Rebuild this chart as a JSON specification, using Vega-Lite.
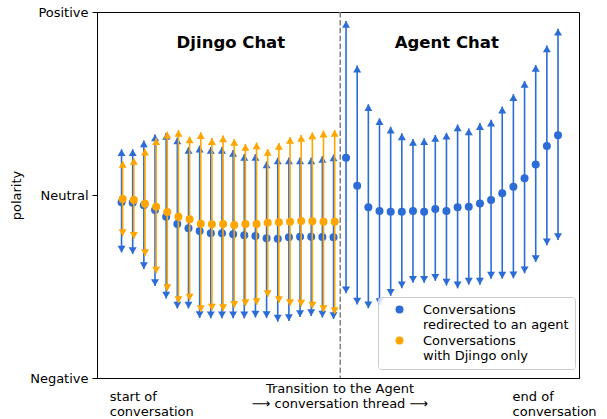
{
  "$schema": "https://vega.github.io/schema/vega-lite/v6.json",
  "width": 482,
  "height": 366,
  "autosize": {"type": "none"},
  "padding": {"left": 97, "top": 12, "right": 28, "bottom": 41},
  "background": "white",
  "config": {
    "font": "DejaVu Sans",
    "view": {"stroke": "black", "strokeWidth": 1}
  },
  "datasets": {
    "pts": [
      {"group": "agent", "x": 0, "mean": -0.040, "hi": 0.250, "lo": -0.314},
      {"group": "agent", "x": 1, "mean": -0.042, "hi": 0.250, "lo": -0.322},
      {"group": "agent", "x": 2, "mean": -0.056, "hi": 0.298, "lo": -0.404},
      {"group": "agent", "x": 3, "mean": -0.082, "hi": 0.331, "lo": -0.497},
      {"group": "agent", "x": 4, "mean": -0.119, "hi": 0.339, "lo": -0.566},
      {"group": "agent", "x": 5, "mean": -0.158, "hi": 0.314, "lo": -0.620},
      {"group": "agent", "x": 6, "mean": -0.182, "hi": 0.262, "lo": -0.620},
      {"group": "agent", "x": 7, "mean": -0.197, "hi": 0.270, "lo": -0.672},
      {"group": "agent", "x": 8, "mean": -0.209, "hi": 0.262, "lo": -0.674},
      {"group": "agent", "x": 9, "mean": -0.209, "hi": 0.262, "lo": -0.674},
      {"group": "agent", "x": 10, "mean": -0.215, "hi": 0.246, "lo": -0.674},
      {"group": "agent", "x": 11, "mean": -0.220, "hi": 0.224, "lo": -0.674},
      {"group": "agent", "x": 12, "mean": -0.224, "hi": 0.224, "lo": -0.670},
      {"group": "agent", "x": 13, "mean": -0.237, "hi": 0.183, "lo": -0.672},
      {"group": "agent", "x": 14, "mean": -0.239, "hi": 0.205, "lo": -0.692},
      {"group": "agent", "x": 15, "mean": -0.231, "hi": 0.205, "lo": -0.689},
      {"group": "agent", "x": 16, "mean": -0.228, "hi": 0.205, "lo": -0.667},
      {"group": "agent", "x": 17, "mean": -0.228, "hi": 0.205, "lo": -0.661},
      {"group": "agent", "x": 18, "mean": -0.230, "hi": 0.213, "lo": -0.670},
      {"group": "agent", "x": 19, "mean": -0.231, "hi": 0.221, "lo": -0.678},
      {"group": "agent", "x": 20.12, "mean": 0.204, "hi": 0.951, "lo": -0.537},
      {"group": "agent", "x": 21.12, "mean": 0.051, "hi": 0.707, "lo": -0.599},
      {"group": "agent", "x": 22.12, "mean": -0.067, "hi": 0.496, "lo": -0.619},
      {"group": "agent", "x": 23.12, "mean": -0.087, "hi": 0.419, "lo": -0.601},
      {"group": "agent", "x": 24.12, "mean": -0.091, "hi": 0.373, "lo": -0.551},
      {"group": "agent", "x": 25.12, "mean": -0.091, "hi": 0.337, "lo": -0.510},
      {"group": "agent", "x": 26.12, "mean": -0.087, "hi": 0.306, "lo": -0.480},
      {"group": "agent", "x": 27.12, "mean": -0.091, "hi": 0.310, "lo": -0.480},
      {"group": "agent", "x": 28.12, "mean": -0.077, "hi": 0.328, "lo": -0.469},
      {"group": "agent", "x": 29.12, "mean": -0.087, "hi": 0.340, "lo": -0.495},
      {"group": "agent", "x": 30.12, "mean": -0.067, "hi": 0.385, "lo": -0.510},
      {"group": "agent", "x": 31.12, "mean": -0.064, "hi": 0.364, "lo": -0.490},
      {"group": "agent", "x": 32.12, "mean": -0.046, "hi": 0.393, "lo": -0.490},
      {"group": "agent", "x": 33.12, "mean": -0.027, "hi": 0.411, "lo": -0.457},
      {"group": "agent", "x": 34.12, "mean": 0.009, "hi": 0.483, "lo": -0.457},
      {"group": "agent", "x": 35.12, "mean": 0.045, "hi": 0.551, "lo": -0.455},
      {"group": "agent", "x": 36.12, "mean": 0.091, "hi": 0.623, "lo": -0.428},
      {"group": "agent", "x": 37.12, "mean": 0.166, "hi": 0.710, "lo": -0.366},
      {"group": "agent", "x": 38.12, "mean": 0.268, "hi": 0.817, "lo": -0.275},
      {"group": "agent", "x": 39.12, "mean": 0.327, "hi": 0.909, "lo": -0.246},
      {"group": "djingo", "x": 0.1, "mean": -0.022, "hi": 0.186, "lo": -0.224},
      {"group": "djingo", "x": 1.1, "mean": -0.027, "hi": 0.202, "lo": -0.240},
      {"group": "djingo", "x": 2.1, "mean": -0.048, "hi": 0.253, "lo": -0.333},
      {"group": "djingo", "x": 3.1, "mean": -0.064, "hi": 0.310, "lo": -0.429},
      {"group": "djingo", "x": 4.1, "mean": -0.093, "hi": 0.346, "lo": -0.525},
      {"group": "djingo", "x": 5.1, "mean": -0.119, "hi": 0.355, "lo": -0.590},
      {"group": "djingo", "x": 6.1, "mean": -0.133, "hi": 0.320, "lo": -0.577},
      {"group": "djingo", "x": 7.1, "mean": -0.157, "hi": 0.343, "lo": -0.639},
      {"group": "djingo", "x": 8.1, "mean": -0.160, "hi": 0.311, "lo": -0.631},
      {"group": "djingo", "x": 9.1, "mean": -0.158, "hi": 0.325, "lo": -0.634},
      {"group": "djingo", "x": 10.1, "mean": -0.164, "hi": 0.306, "lo": -0.617},
      {"group": "djingo", "x": 11.1, "mean": -0.158, "hi": 0.279, "lo": -0.607},
      {"group": "djingo", "x": 12.1, "mean": -0.158, "hi": 0.287, "lo": -0.601},
      {"group": "djingo", "x": 13.1, "mean": -0.151, "hi": 0.251, "lo": -0.557},
      {"group": "djingo", "x": 14.1, "mean": -0.149, "hi": 0.284, "lo": -0.590},
      {"group": "djingo", "x": 15.1, "mean": -0.146, "hi": 0.317, "lo": -0.607},
      {"group": "djingo", "x": 16.1, "mean": -0.142, "hi": 0.328, "lo": -0.609},
      {"group": "djingo", "x": 17.1, "mean": -0.144, "hi": 0.342, "lo": -0.620},
      {"group": "djingo", "x": 18.1, "mean": -0.146, "hi": 0.352, "lo": -0.639},
      {"group": "djingo", "x": 19.1, "mean": -0.146, "hi": 0.355, "lo": -0.650}
    ],
    "titles": [
      {"label": "Djingo Chat", "x": 9.8, "y": 0.831},
      {"label": "Agent Chat", "x": 29.15, "y": 0.831}
    ]
  },
  "layer": [
    {
      "data": {"name": "pts"},
      "transform": [{"filter": "datum.group == 'agent'"}],
      "layer": [
        {
          "mark": {"type": "rule", "strokeWidth": 1.6},
          "encoding": {
            "x": {
              "field": "x", "type": "quantitative",
              "scale": {"domain": [-2.2, 41], "nice": false, "zero": false},
              "axis": {
                "values": [-1.1, 35.0],
                "labelExpr": "datum.value < 10 ? ['start of', 'conversation'] : ['end of', 'conversation']",
                "labelAlign": "left", "labelBaseline": "top", "labelPadding": 12, "labelLineHeight": 15.5,
                "labelFlush": false, "labelOverlap": false, "labelBound": false,
                "ticks": false, "tickSize": 0, "grid": false, "domainColor": "black",
                "labelFontSize": 13, "labelColor": "black", "labelFont": "DejaVu Sans",
                "title": ["Transition to the Agent", "⟶ conversation thread ⟶"],
                "titleFont": "DejaVu Sans", "titleFontSize": 13, "titleFontWeight": "normal", "titleColor": "black",
                "titleX": 242.5, "titleY": 14.7, "titleBaseline": "alphabetic", "titleAlign": "center", "titleLineHeight": 15
              }
            },
            "y": {
              "field": "lo", "type": "quantitative",
              "scale": {"domain": [-1, 1], "nice": false, "zero": false},
              "axis": {
                "values": [-1, 0, 1],
                "labelExpr": "datum.value > 0.5 ? 'Positive' : (datum.value < -0.5 ? 'Negative' : 'Neutral')",
                "title": "polarity", "grid": false, "tickSize": 5, "labelPadding": 4, "titlePadding": 6,
                "labelFontSize": 13, "titleFontSize": 13, "titleFontWeight": "normal",
                "labelColor": "black", "titleColor": "black", "tickColor": "black", "domainColor": "black",
                "labelFont": "DejaVu Sans", "titleFont": "DejaVu Sans"
              }
            },
            "y2": {"field": "hi"},
            "color": {
              "field": "group", "type": "nominal",
              "scale": {"domain": ["agent", "djingo"], "range": ["#2b6cd6", "#ffa500"]},
              "legend": {
                "title": null, "orient": "none", "legendX": 281, "legendY": 285, "direction": "vertical",
                "symbolType": "circle", "symbolSize": 64, "symbolOffset": 9, "symbolStrokeWidth": 0, "symbolOpacity": 1,
                "labelOffset": 17, "labelFontSize": 13, "labelFont": "DejaVu Sans", "labelColor": "black", "labelLimit": 300,
                "labelExpr": "datum.value == 'agent' ? ['Conversations', 'redirected to an agent'] : ['Conversations', 'with Djingo only']",
                "padding": 6, "fillColor": "rgba(255,255,255,0.8)", "strokeColor": "#cccccc", "cornerRadius": 3, "rowPadding": 2
              }
            }
          }
        },
        {
          "mark": {"type": "point", "filled": true, "opacity": 1, "size": 64, "shape": "M0,0L1,1.7L-1,1.7Z"},
          "encoding": {
            "x": {"field": "x", "type": "quantitative", "scale": {"domain": [-2.2, 41], "nice": false, "zero": false}},
            "y": {"field": "hi", "type": "quantitative", "scale": {"domain": [-1, 1], "nice": false, "zero": false}},
            "color": {"field": "group", "type": "nominal", "scale": {"domain": ["agent", "djingo"], "range": ["#2b6cd6", "#ffa500"]}}
          }
        },
        {
          "mark": {"type": "point", "filled": true, "opacity": 1, "size": 64, "shape": "M0,0L1,-1.7L-1,-1.7Z"},
          "encoding": {
            "x": {"field": "x", "type": "quantitative", "scale": {"domain": [-2.2, 41], "nice": false, "zero": false}},
            "y": {"field": "lo", "type": "quantitative", "scale": {"domain": [-1, 1], "nice": false, "zero": false}},
            "color": {"field": "group", "type": "nominal", "scale": {"domain": ["agent", "djingo"], "range": ["#2b6cd6", "#ffa500"]}}
          }
        },
        {
          "mark": {"type": "point", "filled": true, "opacity": 1, "size": 64, "shape": "circle"},
          "encoding": {
            "x": {"field": "x", "type": "quantitative", "scale": {"domain": [-2.2, 41], "nice": false, "zero": false}},
            "y": {"field": "mean", "type": "quantitative", "scale": {"domain": [-1, 1], "nice": false, "zero": false}},
            "color": {"field": "group", "type": "nominal", "scale": {"domain": ["agent", "djingo"], "range": ["#2b6cd6", "#ffa500"]}}
          }
        }
      ]
    },
    {
      "data": {"name": "pts"},
      "transform": [{"filter": "datum.group == 'djingo'"}],
      "encoding": {
        "x": {"field": "x", "type": "quantitative", "scale": {"domain": [-2.2, 41], "nice": false, "zero": false}},
        "color": {"field": "group", "type": "nominal", "scale": {"domain": ["agent", "djingo"], "range": ["#2b6cd6", "#ffa500"]}}
      },
      "layer": [
        {
          "mark": {"type": "rule", "strokeWidth": 1.6},
          "encoding": {
            "y": {"field": "lo", "type": "quantitative", "scale": {"domain": [-1, 1], "nice": false, "zero": false}},
            "y2": {"field": "hi"}
          }
        },
        {
          "mark": {"type": "point", "filled": true, "opacity": 1, "size": 64, "shape": "M0,0L1,1.7L-1,1.7Z"},
          "encoding": {
            "y": {"field": "hi", "type": "quantitative", "scale": {"domain": [-1, 1], "nice": false, "zero": false}}
          }
        },
        {
          "mark": {"type": "point", "filled": true, "opacity": 1, "size": 64, "shape": "M0,0L1,-1.7L-1,-1.7Z"},
          "encoding": {
            "y": {"field": "lo", "type": "quantitative", "scale": {"domain": [-1, 1], "nice": false, "zero": false}}
          }
        },
        {
          "mark": {"type": "point", "filled": true, "opacity": 1, "size": 64, "shape": "circle"},
          "encoding": {
            "y": {"field": "mean", "type": "quantitative", "scale": {"domain": [-1, 1], "nice": false, "zero": false}}
          }
        }
      ]
    },
    {
      "data": {"values": [{}]},
      "mark": {"type": "rule", "color": "#808080", "strokeWidth": 1.5, "strokeDash": [5.5, 2.4]},
      "encoding": {
        "x": {"datum": 19.6, "type": "quantitative", "scale": {"domain": [-2.2, 41], "nice": false, "zero": false}}
      }
    },
    {
      "data": {"name": "titles"},
      "mark": {"type": "text", "font": "DejaVu Sans", "fontWeight": "bold", "fontSize": 16.5, "color": "black", "align": "center", "baseline": "middle"},
      "encoding": {
        "x": {"field": "x", "type": "quantitative", "scale": {"domain": [-2.2, 41], "nice": false, "zero": false}},
        "y": {"field": "y", "type": "quantitative", "scale": {"domain": [-1, 1], "nice": false, "zero": false}},
        "text": {"field": "label"}
      }
    }
  ]
}
